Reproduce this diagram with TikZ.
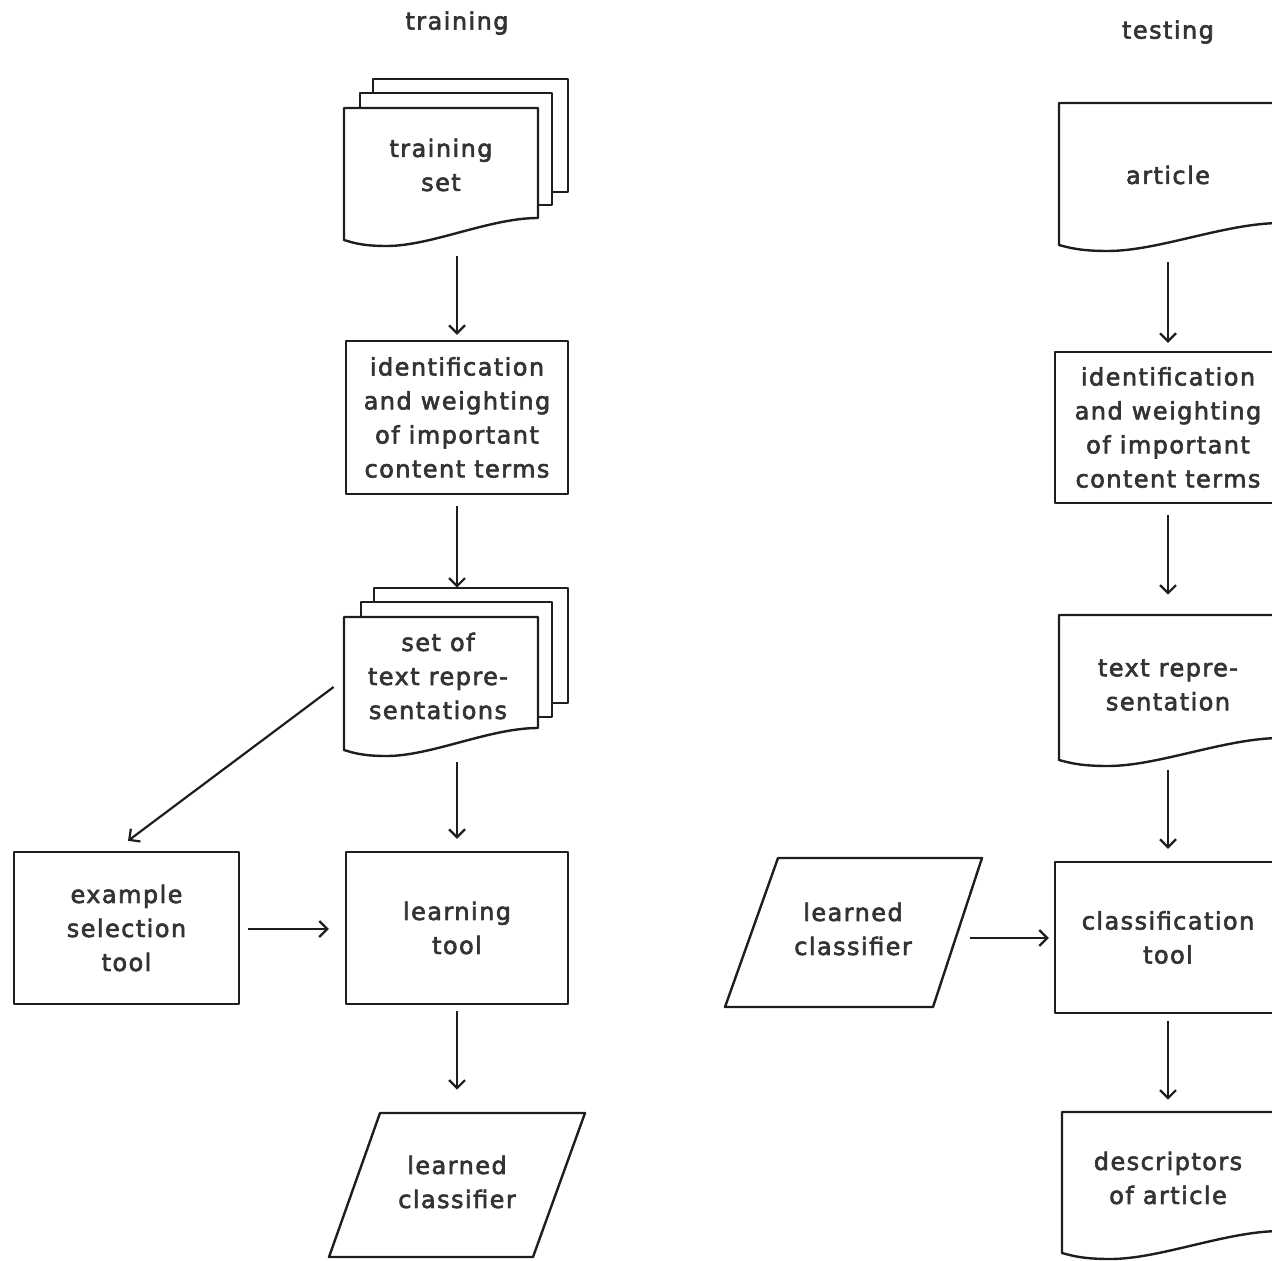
\documentclass[tikz,border=0pt]{standalone}
\usepackage{fontspec}
\setmainfont[LetterSpace=6,FakeBold=2.5]{DejaVu Sans}
\usetikzlibrary{arrows.meta}
\definecolor{inkc}{HTML}{1E1E1E}
\definecolor{txtc}{HTML}{333333}
\newcommand\lbl{\fontsize{12}{17}\selectfont}
% xl, yt, xr, yb (pixel units, y downwards)
\newcommand\docshape[4]{%
  \filldraw[ln] (#1,#2) -- (#3,#2) -- (#3,{#4-22})
    .. controls ({#3-0.25*(#3-#1)},{#4-22}) and ({#1+0.45*(#3-#1)},{#4+6}) .. ({#1+0.22*(#3-#1)},{#4+6})
    .. controls ({#1+0.1*(#3-#1)},{#4+6}) and ({#1+0.05*(#3-#1)},{#4+3}) .. (#1,#4) -- cycle;}
\tikzset{
  ln/.style={draw=inkc, line width=1.2pt, fill=white, line join=round},
  box/.style={ln, rectangle, inner sep=0pt, align=center, text=txtc, font=\lbl},
  lbl/.style={align=center, text=txtc, font=\lbl, inner sep=1pt},
  area/.style={inner sep=0pt, draw=none, rectangle},
  arr/.style={draw=inkc, line width=1.1pt, -{Straight Barb[length=4pt,width=8pt,line width=1.1pt]}},
}
\begin{document}
\begin{tikzpicture}[x=0.5pt, y=-0.5pt]
\useasboundingbox (0,0) rectangle (1272,1261);
\clip (0,0) rectangle (1272,1261);

% titles
\node[lbl] (ttrain) at (457,23) {training};
\node[lbl] (ttest) at (1168,32) {testing};

% ---------- training column ----------
% training set stack
\filldraw[ln] (373,79) rectangle (568,192);
\filldraw[ln] (360,93) rectangle (552,205);
\docshape{344}{108}{538}{240}
\node[area, minimum width=112pt, minimum height=83.5pt] (ts) at (457,162.5) {};
\node[lbl] (tst) at (441,165) {training\\set};

\node[box, minimum width=111pt, minimum height=76.5pt] (id1) at (457,417.5)
  {identification\\and weighting\\of important\\content terms};

% text representations stack
\filldraw[ln] (374,588) rectangle (568,703);
\filldraw[ln] (361,602) rectangle (552,717);
\docshape{344}{617}{538}{750}
\node[area, minimum width=112pt, minimum height=84pt] (tr) at (457,672) {};
\node[lbl] (trt) at (438,676) {set of\\text repre-\\sentations};

\node[box, minimum width=112.5pt, minimum height=76pt] (es) at (126.5,928)
  {example\\selection\\tool};
\node[box, minimum width=111pt, minimum height=76pt] (lt) at (457,928)
  {learning\\tool};

\filldraw[ln] (380,1113) -- (585,1113) -- (533,1257) -- (329,1257) -- cycle;
\node[area, minimum width=128pt, minimum height=72pt] (lc1) at (457,1185) {};
\node[lbl] (lc1t) at (457,1182) {learned\\classifier};

\draw[arr] ([yshift=-5pt]ts.south) -- ([yshift=2.5pt]id1.north);
\draw[arr] ([yshift=-5.5pt]id1.south) -- (tr.north);
\draw[arr] ([yshift=-3pt]tr.south) -- ([yshift=6pt]lt.north);
\draw[arr] ([shift={(-5.5pt,-7.5pt)}]tr.west) -- ([shift={(0.75pt,5pt)}]es.north);
\draw[arr] ([xshift=4pt,yshift=-0.5pt]es.east) -- ([xshift=-8pt,yshift=-0.5pt]lt.west);
\draw[arr] ([yshift=-3pt]lt.south) -- ([yshift=11.5pt]lc1.north);

% ---------- testing column ----------
\docshape{1059}{103}{1281}{245}
\node[area, minimum width=111pt, minimum height=75pt] (art) at (1168,178) {};
\node[lbl] (artt) at (1168,175) {article};

\node[box, minimum width=113pt, minimum height=75.5pt] (id2) at (1168,427.5)
  {identification\\and weighting\\of important\\content terms};

\docshape{1059}{615}{1281}{760}
\node[area, minimum width=111pt, minimum height=76pt] (trep) at (1168,691) {};
\node[lbl] (trept) at (1168,685) {text repre-\\sentation};

\node[box, minimum width=113pt, minimum height=75.5pt] (ct) at (1168,937.5)
  {classification\\tool};

\filldraw[ln] (778,858) -- (982,858) -- (933,1007) -- (725,1007) -- cycle;
\node[area, minimum width=128pt, minimum height=74.5pt] (lc2) at (853.5,932.5) {};
\node[lbl] (lc2t) at (853,929) {learned\\classifier};

\docshape{1062}{1112}{1281}{1253}
\node[area, minimum width=110pt, minimum height=73.5pt] (desc) at (1168,1185.5) {};
\node[lbl] (desct) at (1168,1178) {descriptors\\of article};

\draw[arr] ([yshift=-4.5pt]art.south) -- ([yshift=4pt]id2.north);
\draw[arr] ([yshift=-5.5pt]id2.south) -- ([yshift=10pt]trep.north);
\draw[arr] ([yshift=-1.5pt]trep.south) -- ([yshift=6pt]ct.north);
\draw[arr] ([yshift=-3.5pt]ct.south) -- ([yshift=6pt]desc.north);
\draw[arr] ([xshift=-5.75pt,yshift=-2.75pt]lc2.east) -- ([xshift=-2.5pt,yshift=-0.25pt]ct.west);
\end{tikzpicture}
\end{document}
